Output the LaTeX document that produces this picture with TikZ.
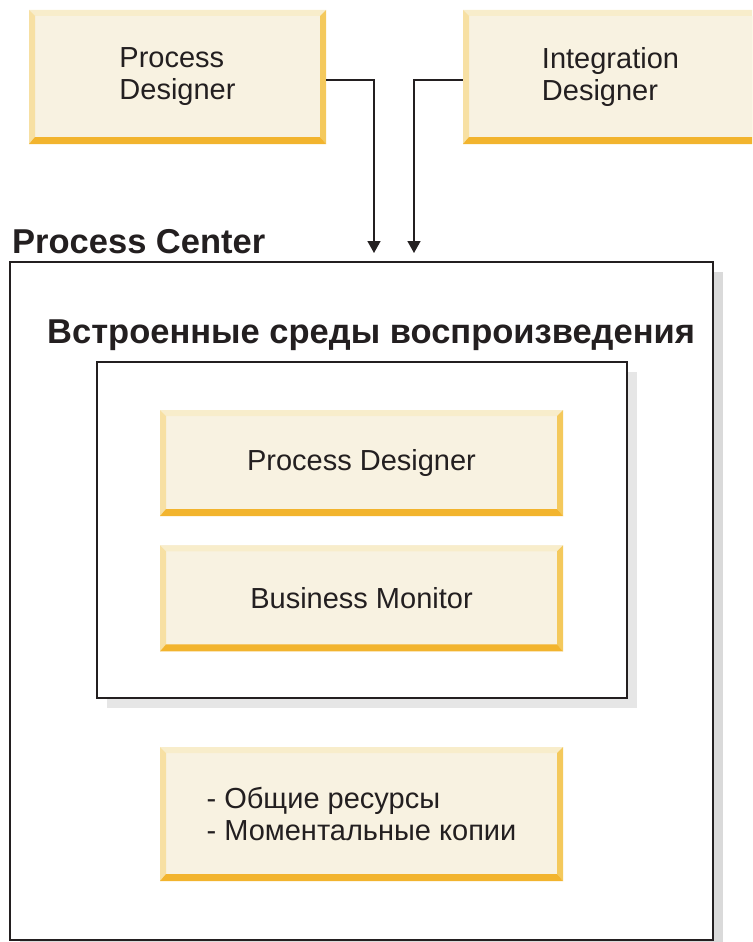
\documentclass[tikz,border=0pt]{standalone}
\usepackage{fontspec}
\setmainfont{Liberation Sans}
\usetikzlibrary{positioning}
\usetikzlibrary{arrows.meta}
\usetikzlibrary{shadows}
\definecolor{boxfill}{HTML}{F8F2E1}
\definecolor{bevleft}{HTML}{F7E0A3}
\definecolor{bevtop}{HTML}{F8EDCB}
\definecolor{bevright}{HTML}{F4C95C}
\definecolor{bevbot}{HTML}{F2B42E}
\definecolor{inkdark}{HTML}{231F20}
\definecolor{shadowgray}{HTML}{DADADA}
\definecolor{shadowlight}{HTML}{E6E6E6}
\tikzset{bevelbox/.style={rectangle,draw=none,fill=boxfill,inner sep=0pt,
text=inkdark,font=\fontsize{29}{32}\selectfont,
path picture={
 \fill[bevtop] (path picture bounding box.north west) -- (path picture bounding box.north east)
   -- ([xshift=-6pt,yshift=-6pt]path picture bounding box.north east) -- ([xshift=6pt,yshift=-6pt]path picture bounding box.north west) -- cycle;
 \fill[bevleft] (path picture bounding box.north west) -- (path picture bounding box.south west)
   -- ([xshift=6pt,yshift=7pt]path picture bounding box.south west) -- ([xshift=6pt,yshift=-6pt]path picture bounding box.north west) -- cycle;
 \fill[bevright] (path picture bounding box.north east) -- (path picture bounding box.south east)
   -- ([xshift=-6pt,yshift=7pt]path picture bounding box.south east) -- ([xshift=-6pt,yshift=-6pt]path picture bounding box.north east) -- cycle;
 \fill[bevbot] (path picture bounding box.south west) -- (path picture bounding box.south east)
   -- ([xshift=-6pt,yshift=7pt]path picture bounding box.south east) -- ([xshift=6pt,yshift=7pt]path picture bounding box.south west) -- cycle;
}}}
\tikzset{container/.style={rectangle,draw=inkdark,line width=1.8pt,fill=white,inner sep=0pt,
drop shadow={shadow xshift=10pt,shadow yshift=-10pt,fill=shadowgray,opacity=1}}}
\tikzset{heading/.style={inner sep=0pt,text=inkdark,font=\bfseries\fontsize{34.5}{40}\selectfont}}
\tikzset{flow/.style={line width=1.6pt,draw=inkdark,-{Triangle[width=13pt,length=12pt]}}}

\begin{document}
\begin{tikzpicture}[x=1pt,y=-1pt]
    \clip (0,0) rectangle (752,942);

    \node[bevelbox, minimum width=297pt, minimum height=134pt, align=left] (pdtop) at (177.5,77) {Process\\Designer};
    \node[bevelbox, minimum width=295pt, minimum height=134pt, align=left] (idtop) at (610.5,77) {Integration\\Designer};

    \node[container, minimum width=703pt, minimum height=678pt] (pc) at (361.5,601) {};
    \node[heading, anchor=base west] (pctitle) at (12,253) {Process Center};

    \coordinate (pcinA) at (374,253);
    \coordinate (pcinB) at (414,253);
    \draw[flow] ([yshift=-3pt]pdtop.east) -| (pcinA);
    \draw[flow] ([yshift=-3pt]idtop.west) -| (pcinB);

    \node[heading, anchor=base west] (rttitle) at (47,343) {Встроенные среды воспроизведения};
    \node[container, drop shadow={shadow xshift=10pt,shadow yshift=-10pt,fill=shadowlight,opacity=1},
          minimum width=530pt, minimum height=336pt] (rt) at (362,530) {};

    \node[bevelbox, minimum width=403pt, minimum height=106pt] (pdin) at (361.5,463) {Process Designer};
    \node[bevelbox, minimum width=403pt, minimum height=106pt] (bmin) [below=29pt of pdin] {Business Monitor};
    \node[bevelbox, minimum width=403pt, minimum height=134pt, align=left] (assets) at (361.5,814)
        {- Общие ресурсы\\- Моментальные копии};

\end{tikzpicture}
\end{document}
